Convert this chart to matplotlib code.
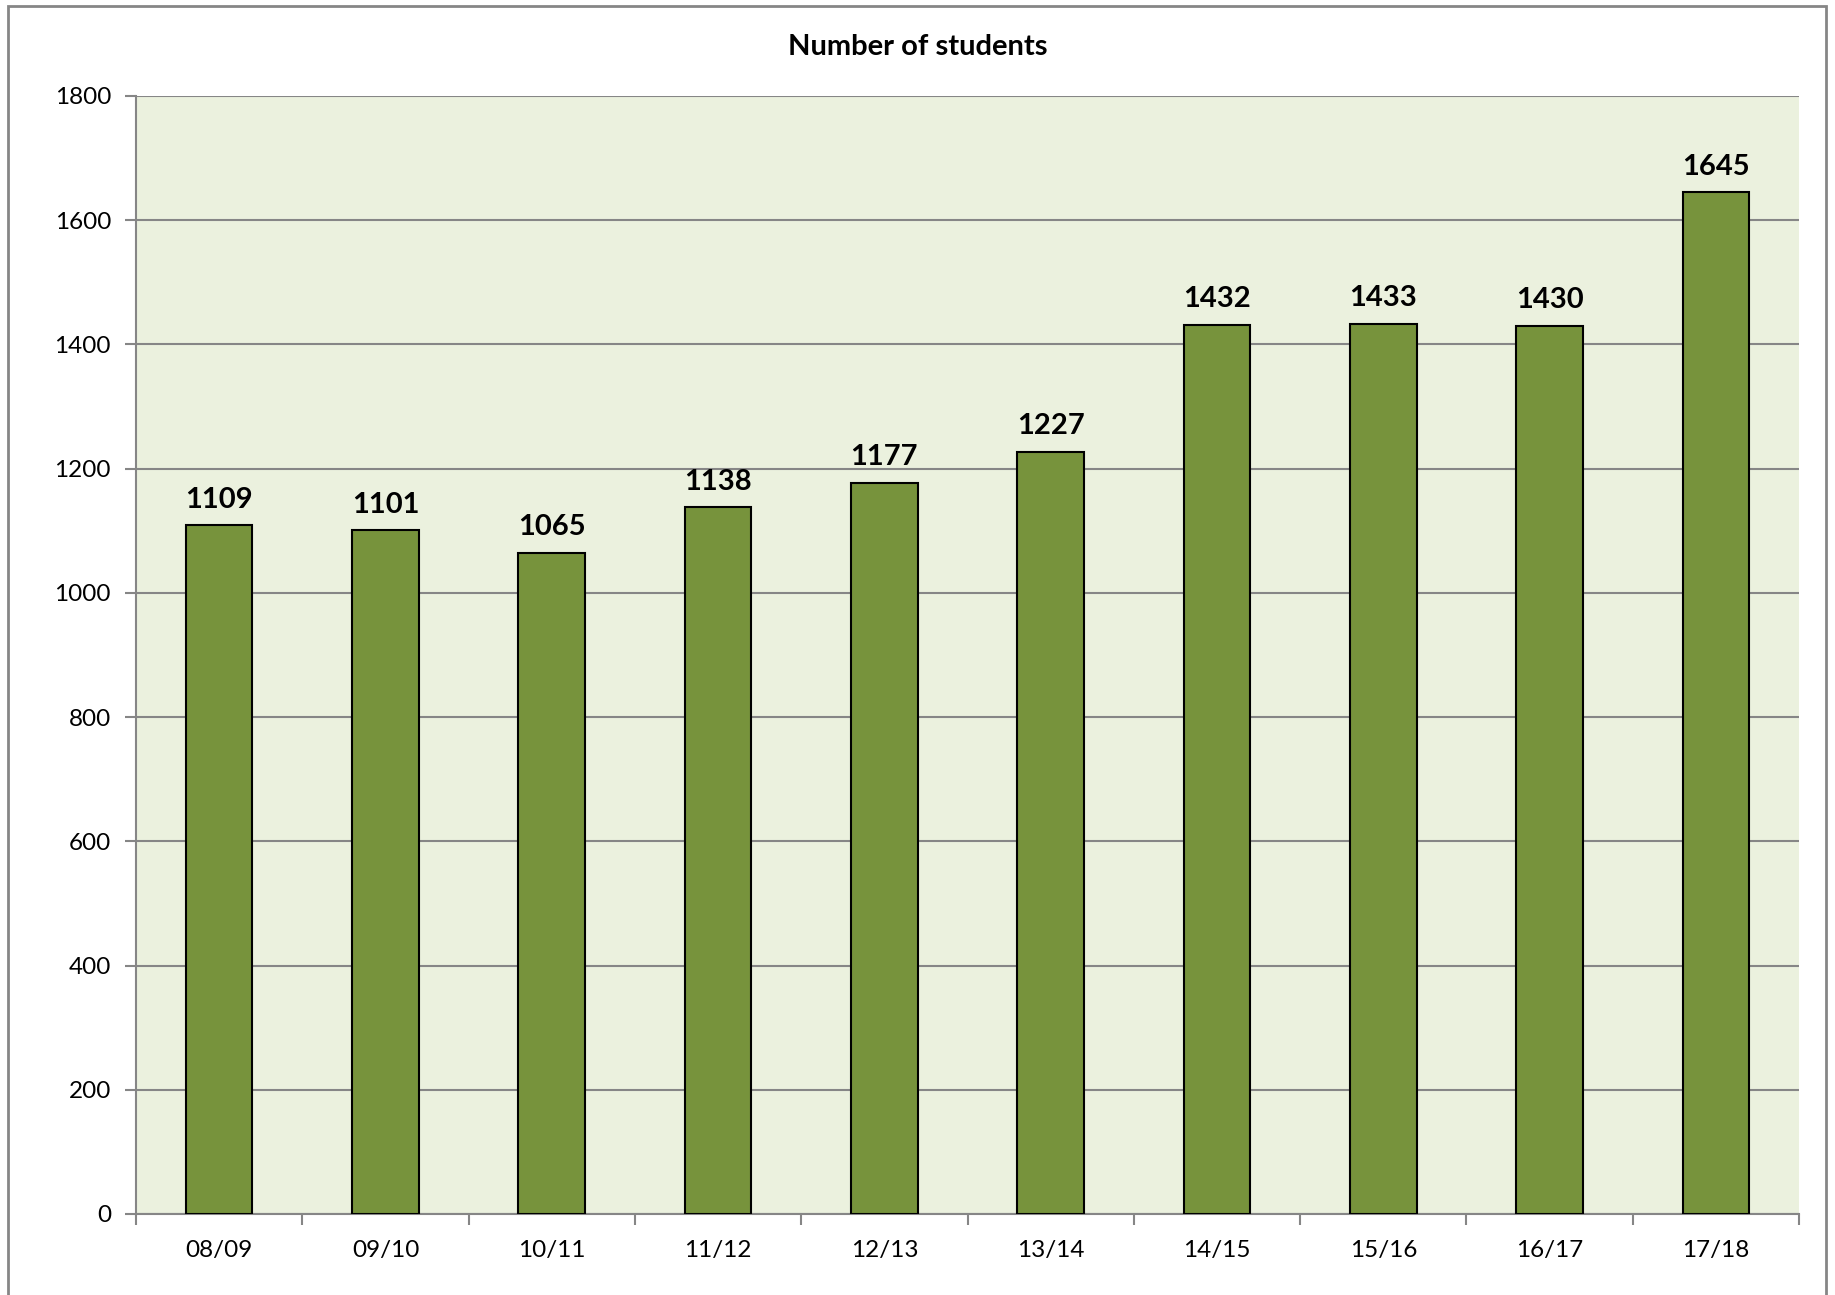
import matplotlib
matplotlib.use("Agg")
import matplotlib.pyplot as plt
from matplotlib.patches import Rectangle

categories = ["08/09", "09/10", "10/11", "11/12", "12/13", "13/14", "14/15", "15/16", "16/17", "17/18"]
students = [1109, 1101, 1065, 1138, 1177, 1227, 1432, 1433, 1430, 1645]
yticks = [0, 200, 400, 600, 800, 1000, 1200, 1400, 1600, 1800]

plt.rcParams['font.family'] = ['Lato', 'DejaVu Sans']

fig = plt.figure(figsize=(18.35, 12.95), dpi=100)
ax = fig.add_axes([136/1835, 1-1214/1295, (1799-136)/1835, (1214-96)/1295])
ax.set_facecolor("#EBF1DE")

grid_c = "#868686"
x = list(range(len(categories)))
bars = ax.bar(x, students, width=0.4, color="#77933C", edgecolor="black", linewidth=1.5, zorder=3)
for xi, v in zip(x, students):
    ax.annotate(str(v), (xi, v), xytext=(0, 9), textcoords="offset points",
                ha="center", va="bottom", fontsize=21, fontweight="bold", zorder=4)

ax.set_xlim(-0.5, len(categories) - 0.5)
ax.set_ylim(0, 1800)
ax.set_yticks(yticks)
ax.set_yticklabels([str(t) for t in yticks])
ax.yaxis.grid(True, color=grid_c, linewidth=1.5, zorder=0)
ax.set_axisbelow(True)

ax.set_xticks(x)
ax.set_xticklabels(categories)
ax.set_xticks([i - 0.5 for i in range(len(categories) + 1)], minor=True)
ax.tick_params(axis="x", which="major", length=0, pad=19, labelsize=17.5)
ax.tick_params(axis="x", which="minor", length=8, width=1.5, color=grid_c, direction="out")
ax.tick_params(axis="y", length=8, width=1.5, color=grid_c, pad=10, labelsize=17.5)

for s in ["top", "right"]:
    ax.spines[s].set_visible(False)
for s in ["left", "bottom"]:
    ax.spines[s].set_color(grid_c)
    ax.spines[s].set_linewidth(1.5)

fig.text(0.5, 1 - 47/1295, "Number of students", ha="center", va="center",
         fontsize=21, fontweight="bold")

fig.patches.append(Rectangle((8/1835, -0.05), (1826-8)/1835, 1.05 - 6/1295,
                             transform=fig.transFigure, fill=False,
                             edgecolor=grid_c, linewidth=2))

fig.savefig("out.png", dpi=100)
